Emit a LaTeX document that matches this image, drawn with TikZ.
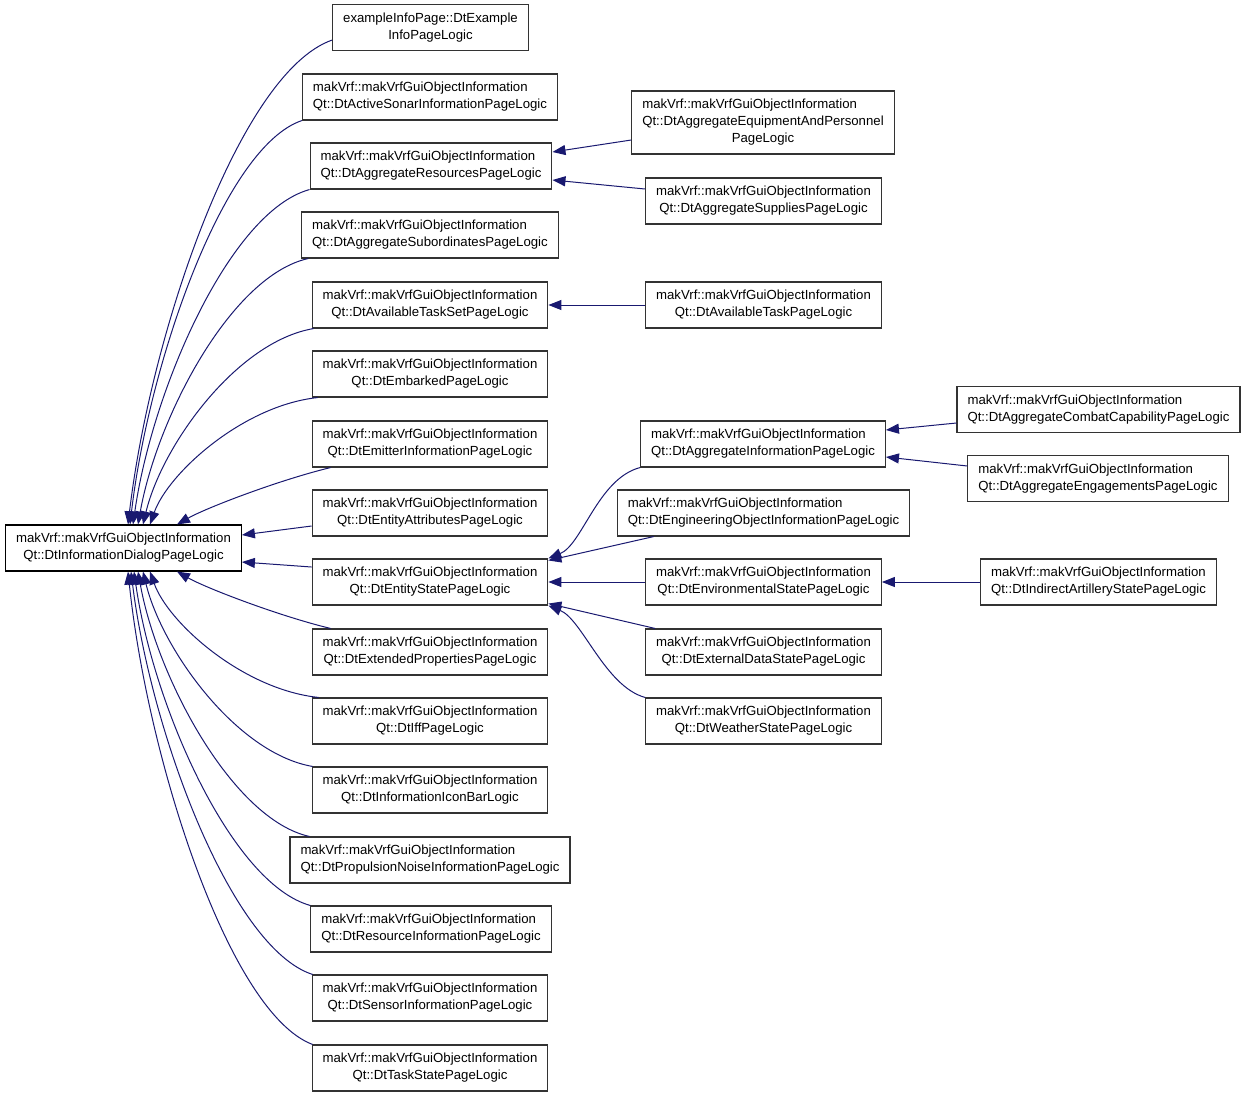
\documentclass[tikz,border=0pt]{standalone}
\usepackage{xcolor}
\usepackage{fontspec}
\setmainfont{Liberation Sans}
\usepackage{tikz}
\usetikzlibrary{calc}
\usetikzlibrary{arrows.meta}

\definecolor{edgeblue}{RGB}{25,25,112}

% first lines left, last line centred
\newcommand{\clsname}[2]{\begin{tabular}{@{}l@{}}#1\\\multicolumn{1}{@{}c@{}}{#2}\end{tabular}}
\newcommand{\clsnamelong}[3]{\begin{tabular}{@{}l@{}}#1\\#2\\\multicolumn{1}{@{}c@{}}{#3}\end{tabular}}
\newcommand{\mvq}{makVrf::makVrfGuiObjectInformation}

\tikzset{
	cls/.style={draw=black!80,line width=1.1pt,fill=white,inner xsep=10.5pt,inner ysep=6pt,font=\fontsize{13.2}{17}\selectfont},
	basecls/.style={cls,draw=black},
	inh/.style={draw=edgeblue,line width=1pt,-{Triangle[length=13pt,width=10pt]}}
}

\begin{document}
\begin{tikzpicture}[x=1pt,y=-1pt]
			\useasboundingbox (0,0) rectangle (1245,1096);
			\node[basecls] (root) at (123.5,548) {\clsname{\mvq}{Qt::DtInformationDialogPageLogic}};
			% direct children
			\node[cls] (ex) at (430.5,27.5) {\clsname{exampleInfoPage::DtExample}{InfoPageLogic}};
			\node[cls] (sonar) at (430,97) {\clsname{\mvq}{Qt::DtActiveSonarInformationPageLogic}};
			\node[cls] (res) at (431,166) {\clsname{\mvq}{Qt::DtAggregateResourcesPageLogic}};
			\node[cls] (sub) at (430,235) {\clsname{\mvq}{Qt::DtAggregateSubordinatesPageLogic}};
			\node[cls] (tset) at (430,305) {\clsname{\mvq}{Qt::DtAvailableTaskSetPageLogic}};
			\node[cls] (emb) at (430,374) {\clsname{\mvq}{Qt::DtEmbarkedPageLogic}};
			\node[cls] (emit) at (430,444) {\clsname{\mvq}{Qt::DtEmitterInformationPageLogic}};
			\node[cls] (attr) at (430,513) {\clsname{\mvq}{Qt::DtEntityAttributesPageLogic}};
			\node[cls] (state) at (430,582) {\clsname{\mvq}{Qt::DtEntityStatePageLogic}};
			\node[cls] (ext) at (430,652) {\clsname{\mvq}{Qt::DtExtendedPropertiesPageLogic}};
			\node[cls] (iff) at (430,721) {\clsname{\mvq}{Qt::DtIffPageLogic}};
			\node[cls] (bar) at (430,790) {\clsname{\mvq}{Qt::DtInformationIconBarLogic}};
			\node[cls] (prop) at (430,860) {\clsname{\mvq}{Qt::DtPropulsionNoiseInformationPageLogic}};
			\node[cls] (resi) at (431,929) {\clsname{\mvq}{Qt::DtResourceInformationPageLogic}};
			\node[cls] (sens) at (430,998) {\clsname{\mvq}{Qt::DtSensorInformationPageLogic}};
			\node[cls] (task) at (430,1068) {\clsname{\mvq}{Qt::DtTaskStatePageLogic}};
			% second level
			\node[cls] (equip) at (763,122.5) {\clsnamelong{\mvq}{Qt::DtAggregateEquipmentAndPersonnel}{PageLogic}};
			\node[cls] (supp) at (763.5,201) {\clsname{\mvq}{Qt::DtAggregateSuppliesPageLogic}};
			\node[cls] (avail) at (763.5,305) {\clsname{\mvq}{Qt::DtAvailableTaskPageLogic}};
			\node[cls] (aggi) at (763,444) {\clsname{\mvq}{Qt::DtAggregateInformationPageLogic}};
			\node[cls] (eng) at (763.5,513) {\clsname{\mvq}{Qt::DtEngineeringObjectInformationPageLogic}};
			\node[cls] (env) at (763.5,582) {\clsname{\mvq}{Qt::DtEnvironmentalStatePageLogic}};
			\node[cls] (exd) at (763.5,652) {\clsname{\mvq}{Qt::DtExternalDataStatePageLogic}};
			\node[cls] (wthr) at (763.5,721) {\clsname{\mvq}{Qt::DtWeatherStatePageLogic}};
			% third level
			\node[cls] (combat) at (1098.5,409.5) {\clsname{\mvq}{Qt::DtAggregateCombatCapabilityPageLogic}};
			\node[cls] (engage) at (1098,478.5) {\clsname{\mvq}{Qt::DtAggregateEngagementsPageLogic}};
			\node[cls] (indir) at (1098.5,582) {\clsname{\mvq}{Qt::DtIndirectArtilleryStatePageLogic}};

			% edges into the base class, upper half
			\draw[inh] ([yshift=11pt]ex.south west) .. controls +(-92,32) and +(23,-194) .. ([xshift=4.5pt]root.north);
			\draw[inh] (sonar.south west) .. controls +(-78,26) and +(19,-162) .. ([xshift=6.5pt]root.north);
			\draw[inh] (res.south west) .. controls +(-80,22) and +(19,-134) .. ([xshift=9.5pt]root.north);
			\draw[inh] ([xshift=7pt]sub.south west) .. controls +(-77,17) and +(19,-107) .. ([xshift=14.5pt]root.north);
			\draw[inh] ([xshift=2pt]tset.south west) .. controls +(-77,13) and +(19,-79) .. ([xshift=19.5pt]root.north);
			\draw[inh] ([xshift=6pt]emb.south west) .. controls +(-75,8) and +(18,-51) .. ([xshift=26.5pt]root.north);
			\draw[inh] ([xshift=19pt]emit.south west) .. controls +(-50,12) and +(30,-17) .. ([xshift=53.5pt]root.north);
			\draw[inh] ([yshift=-13pt]attr.west) -- ([yshift=13pt]root.east);
			\draw[inh] ([yshift=15pt]state.west) -- ([yshift=-14pt]root.east);
			% lower half
			\draw[inh] ([xshift=19pt]ext.north west) .. controls +(-50,-12) and +(30,17) .. ([xshift=53.5pt]root.south);
			\draw[inh] ([xshift=7pt]iff.north west) .. controls +(-76,-8) and +(18,51) .. ([xshift=26.5pt]root.south);
			\draw[inh] ([xshift=1pt]bar.north west) .. controls +(-76,-13) and +(19,78) .. ([xshift=19.5pt]root.south);
			\draw[inh] ([xshift=20pt]prop.north west) .. controls +(-77,-17) and +(19,106) .. ([xshift=14.5pt]root.south);
			\draw[inh] (resi.north west) .. controls +(-79,-22) and +(19,134) .. ([xshift=10.5pt]root.south);
			\draw[inh] ([xshift=1pt]sens.north west) .. controls +(-81,-26) and +(20,162) .. ([xshift=7.5pt]root.south);
			\draw[inh] ([xshift=1pt]task.north west) .. controls +(-83,-31) and +(20,190) .. ([xshift=4.5pt]root.south);

			% second level edges
			\draw[inh] ([yshift=-17.5pt]equip.west) -- ([yshift=14pt]res.east);
			\draw[inh] ([yshift=12pt]supp.west) -- ([yshift=-14pt]res.east);
			\draw[inh] (avail.west) -- (tset.east);
			\draw[inh] (aggi.south west) .. controls +(-42,11) and +(34,-14) .. (state.north east);
			\draw[inh] ([xshift=37pt]eng.south west) -- ([yshift=-2pt]state.north east);
			\draw[inh] (env.west) -- (state.east);
			\draw[inh] ([xshift=10pt]exd.north west) -- ([yshift=2pt]state.south east);
			\draw[inh] (wthr.north west) .. controls +(-40,-11) and +(34,14) .. (state.south east);
			% third level edges
			\draw[inh] ([yshift=-13.5pt]combat.west) -- ([yshift=14pt]aggi.east);
			\draw[inh] ([yshift=12.5pt]engage.west) -- ([yshift=-13pt]aggi.east);
			\draw[inh] (indir.west) -- (env.east);
		\end{tikzpicture}
\end{document}
